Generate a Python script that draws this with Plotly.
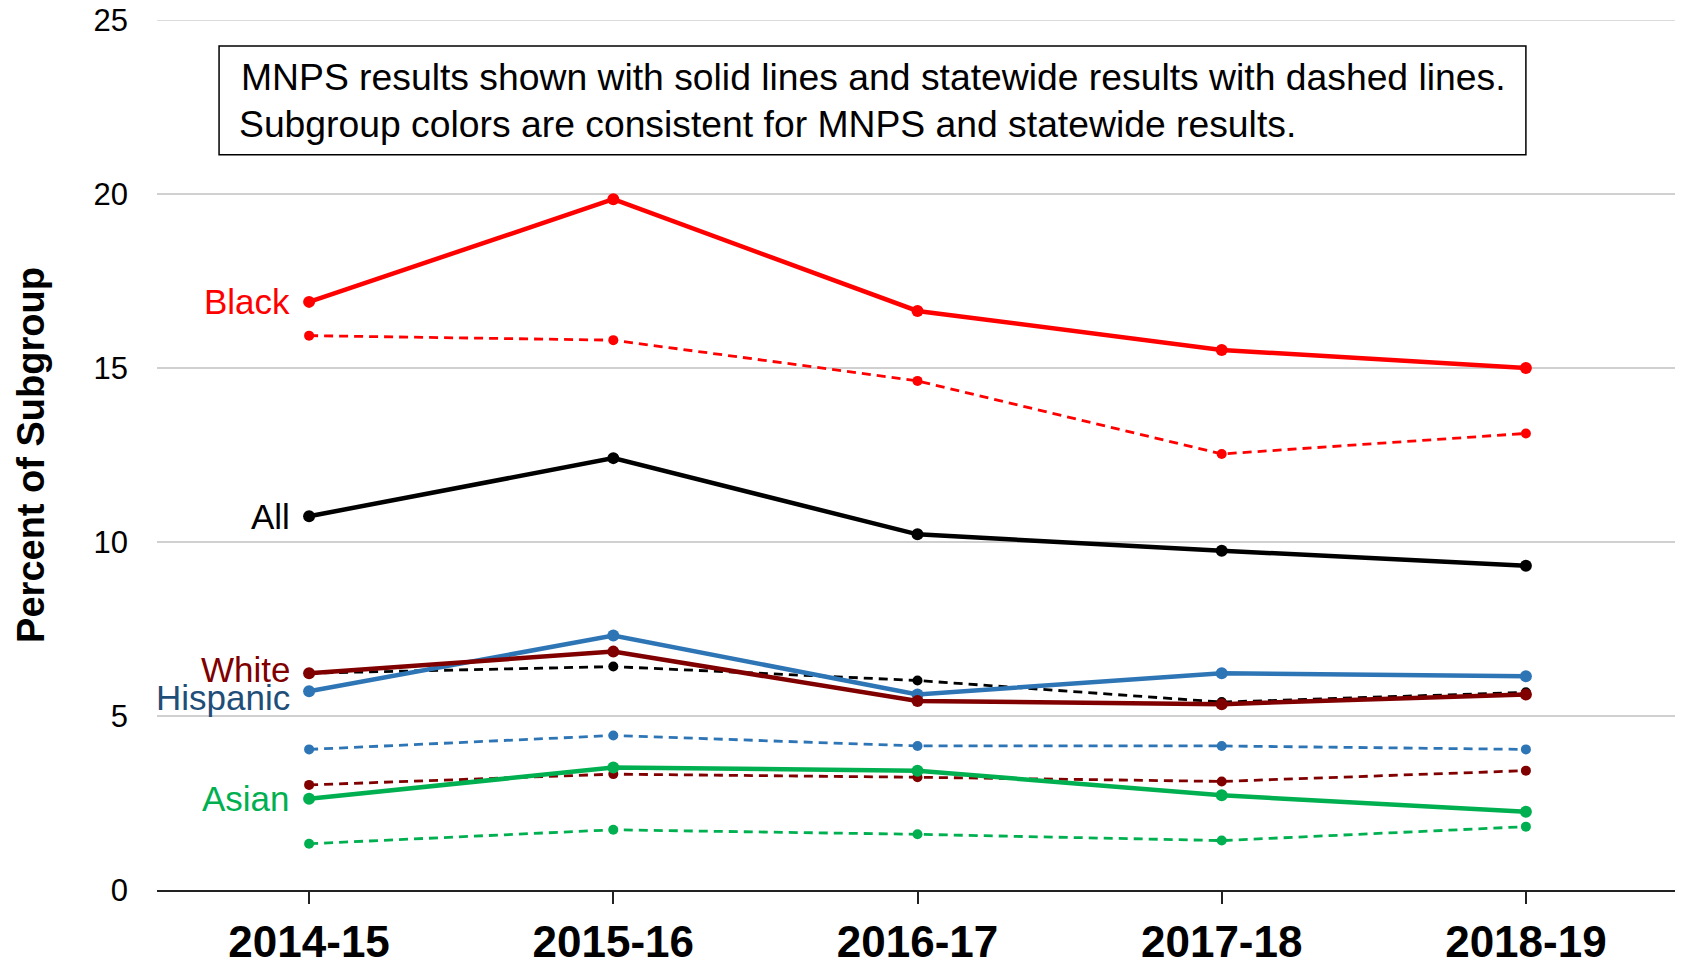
import plotly.graph_objects as go

years = ["2014-15", "2015-16", "2016-17", "2017-18", "2018-19"]

black_mnps = [16.9, 19.85, 16.64, 15.52, 15.0]
black_state = [15.93, 15.8, 14.63, 12.53, 13.12]
all_mnps = [10.74, 12.41, 10.22, 9.75, 9.32]
all_state = [6.23, 6.42, 6.02, 5.4, 5.68]
hisp_mnps = [5.71, 7.31, 5.62, 6.23, 6.14]
hisp_state = [4.04, 4.44, 4.14, 4.14, 4.04]
white_mnps = [6.23, 6.85, 5.43, 5.34, 5.62]
white_state = [3.02, 3.33, 3.24, 3.12, 3.43]
asian_mnps = [2.62, 3.52, 3.43, 2.72, 2.25]
asian_state = [1.33, 1.73, 1.6, 1.42, 1.82]

y_ticks = [0, 5, 10, 15, 20, 25]

RED = "#FF0000"
BLACK = "#000000"
BLUE = "#2E75B6"
DARKRED = "#800000"
GREEN = "#00B050"
GRID = "#D0D0D0"

FONT = "Liberation Sans, Arial, sans-serif"

series = [
    # name, values, color, dashed
    ("Asian statewide", asian_state, GREEN, True),
    ("White statewide", white_state, DARKRED, True),
    ("Hispanic statewide", hisp_state, BLUE, True),
    ("All statewide", all_state, BLACK, True),
    ("Black statewide", black_state, RED, True),
    ("Asian", asian_mnps, GREEN, False),
    ("Hispanic", hisp_mnps, BLUE, False),
    ("White", white_mnps, DARKRED, False),
    ("All", all_mnps, BLACK, False),
    ("Black", black_mnps, RED, False),
]

fig = go.Figure()
for name, vals, color, dashed in series:
    fig.add_trace(go.Scatter(
        x=years, y=vals, name=name, mode="lines+markers",
        line=dict(color=color, width=2.8 if dashed else 4.5,
                  dash="9px,6px" if dashed else "solid"),
        marker=dict(color=color, size=10 if dashed else 12),
        showlegend=False,
    ))

labels = [
    ("Black", black_mnps[0], RED, 0),
    ("All", all_mnps[0], BLACK, 0),
    ("White", white_mnps[0], DARKRED, 4),
    ("Hispanic", hisp_mnps[0], "#1F4E79", -6),
    ("Asian", asian_mnps[0], GREEN, 0),
]
for text, yv, color, ys in labels:
    fig.add_annotation(x=years[0], y=yv, text=text, showarrow=False,
                       xanchor="right", yanchor="middle", xshift=-17, yshift=ys,
                       font=dict(family=FONT, size=35, color=color))

# top gridline (plotly drops gridlines lying on the plot edge)
fig.add_shape(type="line", xref="paper", yref="y", x0=0, x1=1, y0=y_ticks[-1], y1=y_ticks[-1],
              line=dict(color=GRID, width=1.5), layer="below")

# note box
fig.add_shape(type="rect", xref="paper", yref="paper", x0=0.0408, x1=0.900, y0=0.845, y1=0.970,
              line=dict(color="black", width=1.5), fillcolor="white", layer="above")
fig.add_annotation(xref="paper", yref="paper", x=0.054, y=0.935, xanchor="left", yanchor="middle",
                   text="MNPS results shown with solid lines and statewide results with dashed lines.",
                   showarrow=False, font=dict(family=FONT, size=37.3, color="black"))
fig.add_annotation(xref="paper", yref="paper", x=0.0525, y=0.880, xanchor="left", yanchor="middle",
                   text="Subgroup colors are consistent for MNPS and statewide results.",
                   showarrow=False, font=dict(family=FONT, size=37.3, color="black"))

# page body has an 8px default margin; layout size/margins compensate for it
fig.update_layout(
    width=1675, height=953,
    margin=dict(l=149, r=5, t=12, b=71),
    paper_bgcolor="white", plot_bgcolor="white",
    font=dict(family=FONT, color="black"),
    xaxis=dict(
        type="category", range=[-0.5, 4.5], automargin=False,
        showline=True, linecolor="#222222", linewidth=2,
        ticks="outside", ticklen=12, tickwidth=1.5, tickcolor="#222222",
        tickfont=dict(family=FONT, size=44, color="black", weight="bold"),
        ticklabeloverflow="allow",
        showgrid=False, zeroline=False,
    ),
    yaxis=dict(
        range=[0, 25], tickvals=y_ticks, showgrid=True, gridcolor=GRID, gridwidth=1.5,
        zeroline=False, showline=False, ticks="", automargin=False,
        tickfont=dict(family=FONT, size=31, color="black"),
        ticklabelstandoff=28, ticklabeloverflow="allow",
        title=dict(text="<b>Percent of Subgroup</b>", font=dict(family=FONT, size=38, color="black"), standoff=37),
    ),
)

fig.write_html("out.html")
